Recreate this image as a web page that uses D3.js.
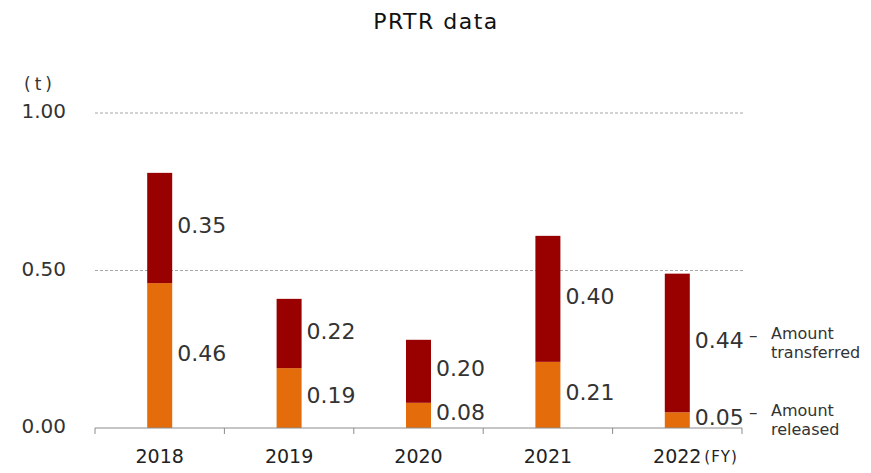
<!DOCTYPE html>
<html>
<head>
<meta charset="utf-8">
<script src="https://cdn.jsdelivr.net/npm/d3@7"></script>
<style>
  body { margin: 0; background: #fff; }
  svg { font-family: "DejaVu Sans", "Noto Sans", sans-serif; }
</style>
</head>
<body>
<svg id="chart" width="871" height="473"></svg>
<script>
// data
const years = ['2018', '2019', '2020', '2021', '2022'];
const released = [0.46, 0.19, 0.08, 0.21, 0.05];
const transferred = [0.35, 0.22, 0.20, 0.40, 0.44];
const yTicks = [0, 0.5, 1.0];
const seriesNames = ['Amount released', 'Amount transferred'];
const colors = ['#e46c0a', '#990000'];

const svg = d3.select('#chart');
const margin = { left: 95, right: 129, top: 113, bottom: 45 };
const width = 871, height = 473;

const x = d3.scaleBand()
    .domain(years)
    .range([margin.left, width - margin.right])
    .paddingInner(0)
    .paddingOuter(0);
const y = d3.scaleLinear().domain([0, 1]).range([428, 113]);

const barW = 25;

// title
svg.append('text')
    .attr('x', 436).attr('y', 29)
    .attr('text-anchor', 'middle')
    .attr('font-size', 22)
    .attr('letter-spacing', 1.5)
    .attr('fill', '#111')
    .text('PRTR data');

// gridlines
svg.append('g')
    .selectAll('line')
    .data(yTicks.filter(d => d > 0))
    .join('line')
    .attr('x1', margin.left).attr('x2', 743)
    .attr('y1', d => y(d)).attr('y2', d => y(d))
    .attr('stroke', '#a6a6a6')
    .attr('stroke-dasharray', '3,2');

// y tick labels
svg.append('g')
    .selectAll('text')
    .data(yTicks)
    .join('text')
    .attr('x', 66).attr('y', d => y(d) + 5)
    .attr('text-anchor', 'end')
    .attr('font-size', 20)
    .attr('fill', '#333')
    .text(d => d3.format('.2f')(d));

svg.append('text')
    .attr('x', 40).attr('y', 90)
    .attr('text-anchor', 'middle')
    .attr('font-size', 17)
    .attr('letter-spacing', 4)
    .attr('fill', '#333')
    .text('(t)');

// stacked bars
const stackData = years.map((yr, i) => ({ year: yr, released: released[i], transferred: transferred[i] }));
const stack = d3.stack().keys(['released', 'transferred'])(stackData);

const groups = svg.append('g')
    .selectAll('g')
    .data(stack)
    .join('g')
    .attr('fill', (d, i) => colors[i]);

groups.selectAll('rect')
    .data(d => d)
    .join('rect')
    .attr('x', d => x(d.data.year) + x.bandwidth() / 2 - barW / 2)
    .attr('width', barW)
    .attr('y', d => y(d[1]))
    .attr('height', d => y(d[0]) - y(d[1]));

// value labels
groups.selectAll('text')
    .data(d => d)
    .join('text')
    .attr('x', d => x(d.data.year) + x.bandwidth() / 2 + barW / 2 + 5)
    .attr('y', d => (y(d[0]) + y(d[1])) / 2 + 5)
    .attr('font-size', 22)
    .attr('fill', '#333')
    .text(d => d3.format('.2f')(d[1] - d[0]));

// x axis
const xAxis = svg.append('g')
    .attr('transform', 'translate(0,428)');
xAxis.append('line')
    .attr('x1', margin.left).attr('x2', width - margin.right)
    .attr('stroke', '#8c8c8c');
const tickPos = years.map(d => x(d)).concat([x(years[years.length - 1]) + x.bandwidth()]);
xAxis.selectAll('line.tick')
    .data(tickPos)
    .join('line')
    .attr('class', 'tick')
    .attr('x1', d => d).attr('x2', d => d)
    .attr('y1', 0).attr('y2', 6)
    .attr('stroke', '#8c8c8c');
xAxis.selectAll('text')
    .data(years)
    .join('text')
    .attr('x', d => x(d) + x.bandwidth() / 2)
    .attr('y', 35)
    .attr('text-anchor', 'middle')
    .attr('font-size', 19)
    .attr('fill', '#222')
    .text(d => d);
xAxis.append('text')
    .attr('x', x('2022') + x.bandwidth() / 2 + 27)
    .attr('y', 34)
    .attr('font-size', 15)
    .attr('letter-spacing', 1)
    .attr('fill', '#222')
    .text('(FY)');

// legend at last bar
const last = stack.map(s => s[s.length - 1]);
const legend = svg.append('g');
last.forEach((d, i) => {
    const mid = (y(d[0]) + y(d[1])) / 2;
    const words = seriesNames[i].split(' ');
    legend.append('text')
        .attr('x', 749).attr('y', mid - 2)
        .attr('font-size', 17)
        .attr('fill', '#333')
        .text('–');
    words.forEach((w, j) => {
        legend.append('text')
            .attr('x', 771).attr('y', mid - 4 + j * 19)
            .attr('font-size', 16)
            .attr('fill', '#333')
            .text(w);
    });
});
</script>
</body>
</html>
